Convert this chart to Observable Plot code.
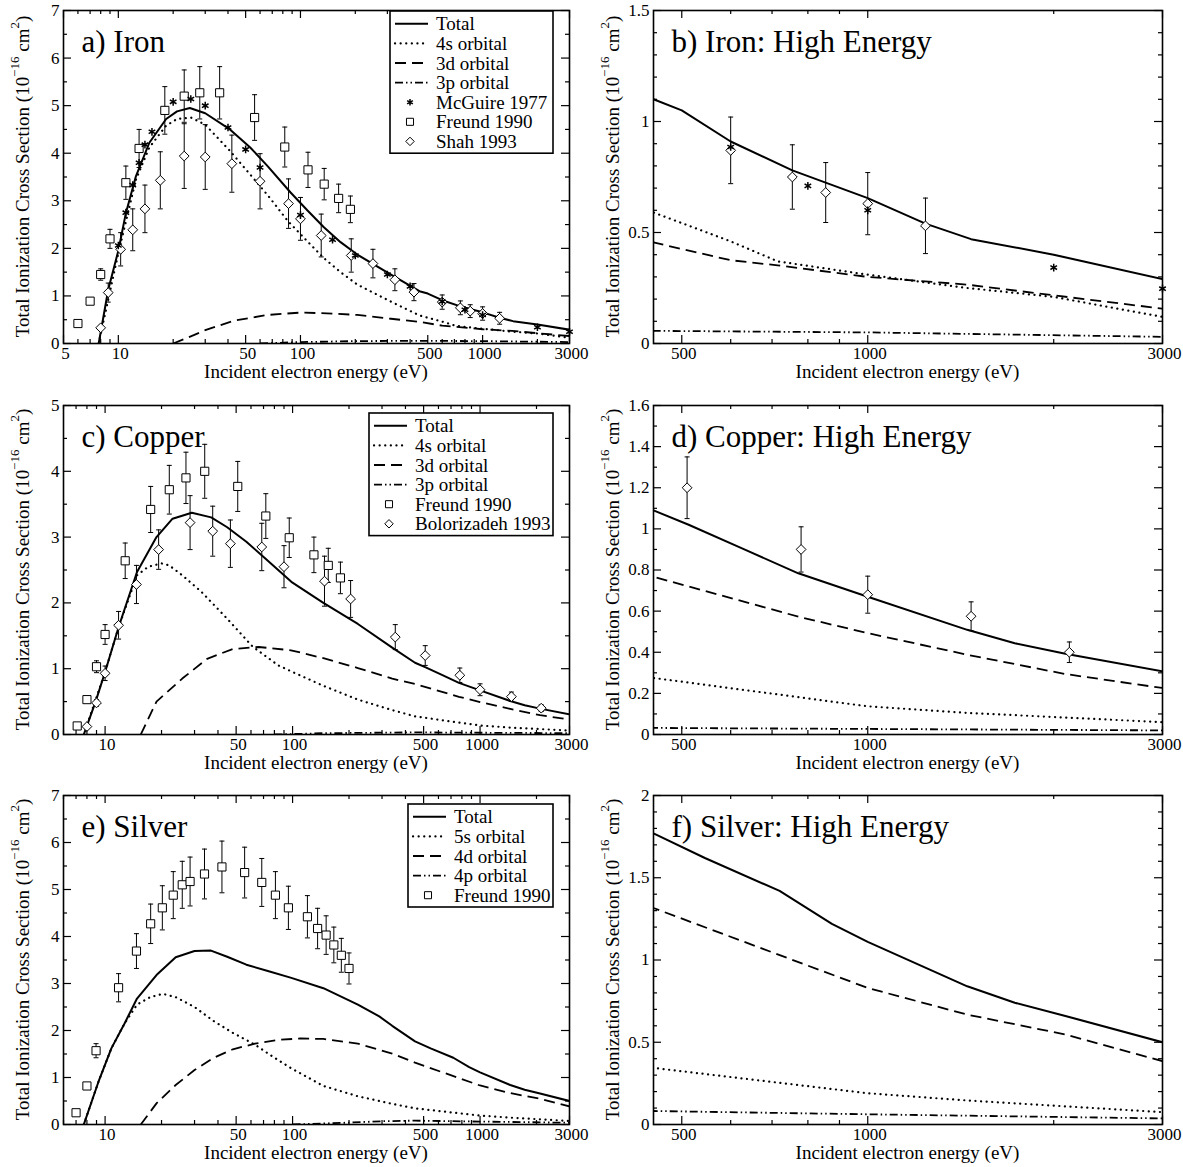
<!DOCTYPE html>
<html><head><meta charset="utf-8">
<script src="https://cdn.jsdelivr.net/npm/d3@7"></script>
<script src="https://cdn.jsdelivr.net/npm/@observablehq/plot@0.6"></script>
<style>
body{margin:0;background:#fff;}
#chart{position:relative;width:1183px;height:1167px;background:#fff;overflow:hidden;}
#chart svg{position:absolute;overflow:visible;}
</style></head><body><div id="chart"></div>
<script>
// ---------- DATA (energy eV, cross section 1e-16 cm^2 [, error]) ----------
// Iron theory
const feTotal = [[7.8,0],[8.8,1.13],[10,1.95],[11,2.74],[12.5,3.52],[14.8,4.22],[18.3,4.72],[21,4.88],[24.7,4.95],[30,4.84],[41,4.5],[53,4.12],[66,3.73],[88,3.18],[109,2.8],[134,2.45],[166,2.13],[205,1.87],[314,1.45],[450,1.1],[500,1.05],[600,0.91],[755,0.78],[1000,0.655],[1240,0.54],[1470,0.47],[2000,0.4],[3000,0.29]];
const fe4s = [[7.8,0],[10,1.9],[12.5,3.45],[14.8,4.12],[18.3,4.58],[21,4.72],[25,4.75],[30,4.6],[41,4.05],[53,3.55],[66,3.12],[85,2.58],[109,2.15],[134,1.8],[166,1.5],[205,1.24],[314,0.88],[450,0.59],[600,0.46],[715,0.37],[1000,0.31],[1450,0.25],[2000,0.21],[3000,0.12]];
const fe3d = [[20,0],[25,0.15],[30,0.28],[43,0.48],[66,0.6],[100,0.65],[150,0.63],[205,0.6],[314,0.52],[450,0.455],[600,0.375],[715,0.352],[1000,0.3],[1450,0.265],[2000,0.217],[3000,0.157]];
const fe3p = [[60,0],[100,0.03],[200,0.05],[450,0.057],[1000,0.05],[3000,0.03]];
// Iron experiments
const feMcGuire = [[10,2.06],[11,2.75],[12,3.33],[13,3.8],[14,4.18],[15.3,4.45],[20,5.08],[25,5.14],[30,5.0],[40,4.54],[50,4.08],[60,3.7],[100,2.7],[150,2.18],[200,1.85],[300,1.45],[400,1.2],[600,0.885],[800,0.71],[1000,0.6],[2000,0.342],[3000,0.247]];
const feFreund = [[6,0.42,0.05],[7,0.89,0.07],[8,1.45,0.12],[9,2.2,0.2],[11,3.38,0.35],[13,4.1,0.4],[18,4.9,0.5],[23,5.2,0.55],[28,5.27,0.55],[36,5.27,0.55],[56,4.75,0.48],[82,4.13,0.42],[110,3.65,0.37],[135,3.35,0.33],[162,3.05,0.3],[188,2.82,0.28]];
const feShah = [[8,0.33,0.03],[8.8,1.07,0.2],[10.3,1.98,0.35],[12,2.39,0.44],[14,2.83,0.5],[17,3.43,0.6],[23,3.94,0.68],[30,3.92,0.68],[42,3.78,0.6],[60,3.41,0.58],[86,2.94,0.52],[100,2.62,0.45],[130,2.27,0.45],[190,1.85,0.35],[250,1.68,0.3],[330,1.34,0.23],[420,1.08,0.18],[600,0.87,0.15],[755,0.75,0.145],[855,0.68,0.135],[1000,0.63,0.14],[1240,0.53,0.125]];
// Copper theory
const cuTotal = [[7.7,0],[8.9,0.5],[10,0.95],[11.8,1.63],[14.8,2.47],[18.8,3.0],[22.9,3.28],[29,3.37],[36.8,3.3],[44.8,3.15],[56.7,2.93],[71.8,2.67],[98.5,2.32],[146,2.0],[223,1.68],[340,1.32],[450,1.09],[513,1.02],[626,0.905],[772,0.784],[1000,0.67],[1449,0.509],[1730,0.444],[2089,0.393],[3000,0.307]];
const cu4s = [[7.7,0],[10,0.95],[11.8,1.63],[14.8,2.42],[17,2.55],[20,2.6],[22,2.57],[25.8,2.42],[32.6,2.17],[44.8,1.76],[61,1.34],[84,1.05],[100,0.95],[146,0.74],[223,0.53],[340,0.37],[450,0.275],[1000,0.137],[1449,0.105],[3000,0.06]];
const cu3d = [[15.5,0],[18.8,0.5],[25.8,0.85],[35,1.15],[48,1.3],[66,1.33],[98,1.28],[146,1.16],[223,1.01],[340,0.85],[450,0.767],[772,0.573],[1000,0.493],[1449,0.388],[2089,0.294],[3000,0.226]];
const cu3p = [[80,0],[150,0.02],[450,0.032],[3000,0.02]];
// Copper experiments
const cuFreund = [[7.1,0.13,0.02],[8,0.53,0.03],[9,1.03,0.09],[10,1.52,0.15],[12.8,2.64,0.27],[17.5,3.42,0.35],[22,3.72,0.37],[27,3.9,0.39],[34,4.0,0.41],[51,3.77,0.38],[72,3.32,0.34],[96,2.99,0.3],[130,2.73,0.27],[155,2.57,0.26],[180,2.38,0.24]];
const cuBolorizadeh = [[8,0.12,0.03],[9,0.48,0.05],[10,0.93,0.11],[11.8,1.66,0.21],[14.7,2.28,0.29],[19.3,2.81,0.3],[28.4,3.22,0.41],[37.5,3.09,0.38],[46.6,2.9,0.36],[68.5,2.85,0.36],[90,2.55,0.32],[148,2.33,0.38],[204,2.06,0.28],[353,1.48,0.19],[510,1.2,0.15],[780,0.9,0.11],[1000,0.68,0.09],[1470,0.575,0.07],[2120,0.4,0.05]];
// Silver theory
const agTotal = [[7.7,0],[9.2,0.9],[10.8,1.62],[12.7,2.15],[14.8,2.68],[18.8,3.18],[23.8,3.56],[30,3.69],[36.7,3.7],[44.8,3.57],[56.7,3.4],[74.6,3.26],[98.5,3.12],[146,2.9],[223,2.55],[290,2.3],[340,2.1],[450,1.77],[545,1.62],[720,1.42],[875,1.22],[1000,1.11],[1449,0.84],[1730,0.74],[2089,0.66],[3000,0.5]];
const ag5s = [[7.7,0],[9.2,0.9],[10.8,1.62],[12.7,2.15],[14.8,2.55],[17.4,2.71],[20.3,2.78],[23.8,2.71],[30,2.5],[38,2.2],[48,1.95],[63,1.7],[78,1.45],[98,1.2],[146,0.82],[223,0.6],[340,0.44],[450,0.344],[1000,0.19],[1449,0.146],[3000,0.075]];
const ag4d = [[15.5,0],[18.8,0.45],[23.8,0.84],[30,1.16],[38,1.42],[48,1.6],[63,1.72],[84,1.8],[110,1.83],[146,1.82],[223,1.72],[340,1.51],[450,1.316],[1000,0.83],[1449,0.668],[2089,0.547],[3000,0.385]];
const ag4p = [[100,0],[200,0.04],[300,0.07],[450,0.082],[1000,0.062],[3000,0.037]];
// Silver experiment
const agFreund = [[7,0.25,0.03],[8,0.82,0.05],[8.95,1.57,0.15],[11.8,2.91,0.3],[14.7,3.69,0.37],[17.5,4.27,0.42],[20.2,4.61,0.47],[23.1,4.88,0.5],[25.8,5.1,0.5],[28.4,5.17,0.52],[33.9,5.33,0.53],[42,5.48,0.55],[55.5,5.36,0.54],[68.5,5.15,0.51],[81,4.88,0.5],[95,4.61,0.46],[120,4.42,0.45],[136,4.17,0.43],[151,4.03,0.41],[166,3.82,0.38],[182,3.6,0.36],[200,3.32,0.33]];

// ---------- TICKS ----------
const xMajorA = [5,10,50,100,500,1000,3000];
const xMajorC = [10,50,100,500,1000,3000];
const xMinorLow = [6,7,8,9,20,30,40,60,70,80,90,200,300,400,600,700,800,900,2000];
const xMajorHigh = [500,1000,3000];
const xMinorHigh = [600,700,800,900,2000];
const yMajor7 = [0,1,2,3,4,5,6,7];
const yMinor7 = [0.5,1.5,2.5,3.5,4.5,5.5,6.5];
const yMajor5 = [0,1,2,3,4,5];
const yMinor5 = [0.5,1.5,2.5,3.5,4.5];
const yMajorB = [0,0.5,1,1.5];
const yMinorB = [0.1,0.2,0.3,0.4,0.6,0.7,0.8,0.9,1.1,1.2,1.3,1.4];
const yMajorD = [0,0.2,0.4,0.6,0.8,1,1.2,1.4,1.6];
const yMinorD = [0.1,0.3,0.5,0.7,0.9,1.1,1.3,1.5];
const yMajorF = [0,0.5,1,1.5,2];
const yMinorF = [0.1,0.2,0.3,0.4,0.6,0.7,0.8,0.9,1.1,1.2,1.3,1.4,1.6,1.7,1.8,1.9];

// ---------- STYLES ----------
const FONT = '"Liberation Serif","Times New Roman",Times,serif';
const STY = {
  total: {strokeWidth: 2, dash: null, cap: "butt"},
  s: {strokeWidth: 2.2, dash: "0.1,5.5", cap: "round"},
  d: {strokeWidth: 1.8, dash: "11,6", cap: "butt"},
  p: {strokeWidth: 1.8, dash: "8,3,1.5,3,1.5,3", cap: "butt"}
};
const capSymbol = {draw(ctx, size) { const w = Math.sqrt(size / Math.PI); ctx.moveTo(-w, 0); ctx.lineTo(w, 0); }};
const MK = {
  square: {symbol: "square", r: 4.6},
  diamond: {symbol: "diamond2", r: 4.4},
  asterisk: {symbol: "asterisk", r: 3.6}
};

const chart = document.getElementById("chart");

function panel(cfg) {
  const width = cfg.width, height = cfg.height;
  const ml = 63, mr = 21, mt = 10, mb = 47;
  const pw = width - ml - mr, ph = height - mt - mb;
  const lo = cfg.xDomain[0];
  const inDom = d => d[0] >= lo - 1e-9;
  const marks = [];
  // curves
  for (const s of cfg.lines) {
    const st = STY[s.style];
    marks.push(Plot.line(s.data, {x: d => d[0], y: d => d[1], stroke: "black", strokeWidth: st.strokeWidth,
      strokeDasharray: st.dash, strokeLinecap: st.cap, clip: true}));
  }
  // experiments: error bars then markers
  for (const e of cfg.exps) {
    if (e.err) {
      marks.push(Plot.ruleX(e.data, {filter: inDom, x: d => d[0], y1: d => d[1] - d[2], y2: d => d[1] + d[2], stroke: "black", strokeWidth: 1}));
      marks.push(Plot.dot(e.data, {filter: inDom, x: d => d[0], y: d => d[1] + d[2], symbol: capSymbol, r: 2.5, stroke: "black", strokeWidth: 1}));
      marks.push(Plot.dot(e.data, {filter: inDom, x: d => d[0], y: d => d[1] - d[2], symbol: capSymbol, r: 2.5, stroke: "black", strokeWidth: 1}));
    }
  }
  for (const e of cfg.exps) {
    const m = MK[e.marker];
    marks.push(Plot.dot(e.data, {filter: inDom, x: d => d[0], y: d => d[1], symbol: m.symbol, r: m.r,
      stroke: "black", fill: e.marker === "asterisk" ? "none" : "white", strokeWidth: e.marker === "asterisk" ? 1.5 : 1}));
  }
  // inward ticks on all four sides
  const tk = {stroke: "black", strokeWidth: 1.2};
  marks.push(Plot.tickY(cfg.yMajor, {y: d => d, insetRight: pw - 8, ...tk}));
  marks.push(Plot.tickY(cfg.yMajor, {y: d => d, insetLeft: pw - 8, ...tk}));
  marks.push(Plot.tickY(cfg.yMinor, {y: d => d, insetRight: pw - 4, ...tk}));
  marks.push(Plot.tickY(cfg.yMinor, {y: d => d, insetLeft: pw - 4, ...tk}));
  marks.push(Plot.tickX(cfg.xMajor, {x: d => d, insetTop: ph - 8, ...tk}));
  marks.push(Plot.tickX(cfg.xMajor, {x: d => d, insetBottom: ph - 8, ...tk}));
  marks.push(Plot.tickX(cfg.xMinor, {x: d => d, insetTop: ph - 4, ...tk}));
  marks.push(Plot.tickX(cfg.xMinor, {x: d => d, insetBottom: ph - 4, ...tk}));
  marks.push(Plot.frame({stroke: "black", strokeWidth: 1.6}));
  // tick labels
  marks.push(Plot.axisY(cfg.yMajor, {tickSize: 0, tickPadding: 4, tickFormat: d => String(d), fontSize: 17, label: null}));
  marks.push(Plot.text(cfg.xMajor, {x: d => d, text: d => String(d), frameAnchor: "bottom", lineAnchor: "top",
    dy: 3, dx: 2, fontSize: 17, fill: "black"}));
  // panel title
  marks.push(Plot.text([cfg.title], {frameAnchor: "top-left", text: d => d, dx: 18, dy: 32, fontSize: 31,
    textAnchor: "start", lineAnchor: "middle", fill: "black"}));

  const svg = Plot.plot({
    width, height, marginLeft: ml, marginRight: mr, marginTop: mt, marginBottom: mb,
    x: {type: "log", domain: cfg.xDomain, axis: null},
    y: {domain: cfg.yDomain, axis: null},
    style: {fontFamily: FONT, fontSize: "17px", color: "black", background: "transparent", overflow: "visible"},
    marks
  });
  svg.style.left = cfg.left + "px";
  svg.style.top = cfg.top + "px";
  chart.appendChild(svg);

  const g = d3.select(svg).append("g").attr("font-family", FONT).attr("fill", "black");
  // y title
  const yt = g.append("text").attr("transform", `translate(22,${mt + ph / 2}) rotate(-90)`)
    .attr("text-anchor", "middle").attr("dominant-baseline", "central").attr("font-size", 19);
  yt.append("tspan").text("Total Ionization Cross Section (10");
  yt.append("tspan").attr("dy", -8).attr("font-size", 13).text("\u221216");
  yt.append("tspan").attr("dy", 8).text(" cm");
  yt.append("tspan").attr("dy", -8).attr("font-size", 13).text("2");
  yt.append("tspan").attr("dy", 8).text(")");
  // x title
  g.append("text").attr("x", ml + pw / 2).attr("y", mt + ph + 28).attr("text-anchor", "middle")
    .attr("dominant-baseline", "central").attr("font-size", 19).text("Incident electron energy (eV)");

  // legend
  if (cfg.legend) {
    const L = cfg.legend, rowH = 19.6;
    const x0 = L.left - cfg.left, y0 = L.top - cfg.top;
    const h = L.items.length * rowH + 5;
    const lg = g.append("g");
    lg.append("rect").attr("x", x0).attr("y", y0).attr("width", L.right - L.left).attr("height", h)
      .attr("fill", "white").attr("stroke", "black").attr("stroke-width", 1.6);
    L.items.forEach((it, i) => {
      const cy = y0 + 3 + rowH * (i + 0.5);
      if (it.style) {
        const st = STY[it.style];
        lg.append("line").attr("x1", x0 + 5).attr("x2", x0 + 38).attr("y1", cy).attr("y2", cy)
          .attr("stroke", "black").attr("stroke-width", st.strokeWidth)
          .attr("stroke-dasharray", st.dash).attr("stroke-linecap", st.cap);
      } else {
        const m = MK[it.marker];
        const type = {square: d3.symbolSquare, diamond: d3.symbolDiamond2, asterisk: d3.symbolAsterisk}[it.marker];
        lg.append("path").attr("transform", `translate(${x0 + 20},${cy})`)
          .attr("d", d3.symbol(type, m.r * m.r * Math.PI * 0.75)())
          .attr("fill", it.marker === "asterisk" ? "none" : "white").attr("stroke", "black")
          .attr("stroke-width", it.marker === "asterisk" ? 1.5 : 1);
      }
      lg.append("text").attr("x", x0 + 46).attr("y", cy).attr("dominant-baseline", "central")
        .attr("text-anchor", "start").attr("font-size", 19).text(it.label);
    });
  }
}

const lowW = 590, highW = 593;
panel({left: 0, top: 0, width: lowW, height: 390, title: "a) Iron", xDomain: [5, 3000], yDomain: [0, 7],
  xMajor: xMajorA, xMinor: xMinorLow, yMajor: yMajor7, yMinor: yMinor7,
  lines: [{data: feTotal, style: "total"}, {data: fe4s, style: "s"}, {data: fe3d, style: "d"}, {data: fe3p, style: "p"}],
  exps: [{data: feFreund, marker: "square", err: true}, {data: feShah, marker: "diamond", err: true}, {data: feMcGuire, marker: "asterisk", err: false}],
  legend: {left: 390, right: 553, top: 11, items: [
    {label: "Total", style: "total"}, {label: "4s orbital", style: "s"}, {label: "3d orbital", style: "d"}, {label: "3p orbital", style: "p"},
    {label: "McGuire 1977", marker: "asterisk"}, {label: "Freund 1990", marker: "square"}, {label: "Shah 1993", marker: "diamond"}]}
});
panel({left: 590, top: 0, width: highW, height: 390, title: "b) Iron: High Energy", xDomain: [450, 3000], yDomain: [0, 1.5],
  xMajor: xMajorHigh, xMinor: xMinorHigh, yMajor: yMajorB, yMinor: yMinorB,
  lines: [{data: feTotal, style: "total"}, {data: fe4s, style: "s"}, {data: fe3d, style: "d"}, {data: fe3p, style: "p"}],
  exps: [{data: feShah, marker: "diamond", err: true}, {data: feMcGuire, marker: "asterisk", err: false}]
});
panel({left: 0, top: 395, width: lowW, height: 386, title: "c) Copper", xDomain: [6, 3000], yDomain: [0, 5],
  xMajor: xMajorC, xMinor: xMinorLow, yMajor: yMajor5, yMinor: yMinor5,
  lines: [{data: cuTotal, style: "total"}, {data: cu4s, style: "s"}, {data: cu3d, style: "d"}, {data: cu3p, style: "p"}],
  exps: [{data: cuFreund, marker: "square", err: true}, {data: cuBolorizadeh, marker: "diamond", err: true}],
  legend: {left: 369, right: 553, top: 413, items: [
    {label: "Total", style: "total"}, {label: "4s orbital", style: "s"}, {label: "3d orbital", style: "d"}, {label: "3p orbital", style: "p"},
    {label: "Freund 1990", marker: "square"}, {label: "Bolorizadeh 1993", marker: "diamond"}]}
});
panel({left: 590, top: 395, width: highW, height: 386, title: "d) Copper: High Energy", xDomain: [450, 3000], yDomain: [0, 1.6],
  xMajor: xMajorHigh, xMinor: xMinorHigh, yMajor: yMajorD, yMinor: yMinorD,
  lines: [{data: cuTotal, style: "total"}, {data: cu4s, style: "s"}, {data: cu3d, style: "d"}, {data: cu3p, style: "p"}],
  exps: [{data: cuBolorizadeh, marker: "diamond", err: true}]
});
panel({left: 0, top: 785, width: lowW, height: 386, title: "e) Silver", xDomain: [6, 3000], yDomain: [0, 7],
  xMajor: xMajorC, xMinor: xMinorLow, yMajor: yMajor7, yMinor: yMinor7,
  lines: [{data: agTotal, style: "total"}, {data: ag5s, style: "s"}, {data: ag4d, style: "d"}, {data: ag4p, style: "p"}],
  exps: [{data: agFreund, marker: "square", err: true}],
  legend: {left: 408, right: 553, top: 804, items: [
    {label: "Total", style: "total"}, {label: "5s orbital", style: "s"}, {label: "4d orbital", style: "d"}, {label: "4p orbital", style: "p"},
    {label: "Freund 1990", marker: "square"}]}
});
panel({left: 590, top: 785, width: highW, height: 386, title: "f) Silver: High Energy", xDomain: [450, 3000], yDomain: [0, 2],
  xMajor: xMajorHigh, xMinor: xMinorHigh, yMajor: yMajorF, yMinor: yMinorF,
  lines: [{data: agTotal, style: "total"}, {data: ag5s, style: "s"}, {data: ag4d, style: "d"}, {data: ag4p, style: "p"}],
  exps: []
});
</script>
</body></html>
